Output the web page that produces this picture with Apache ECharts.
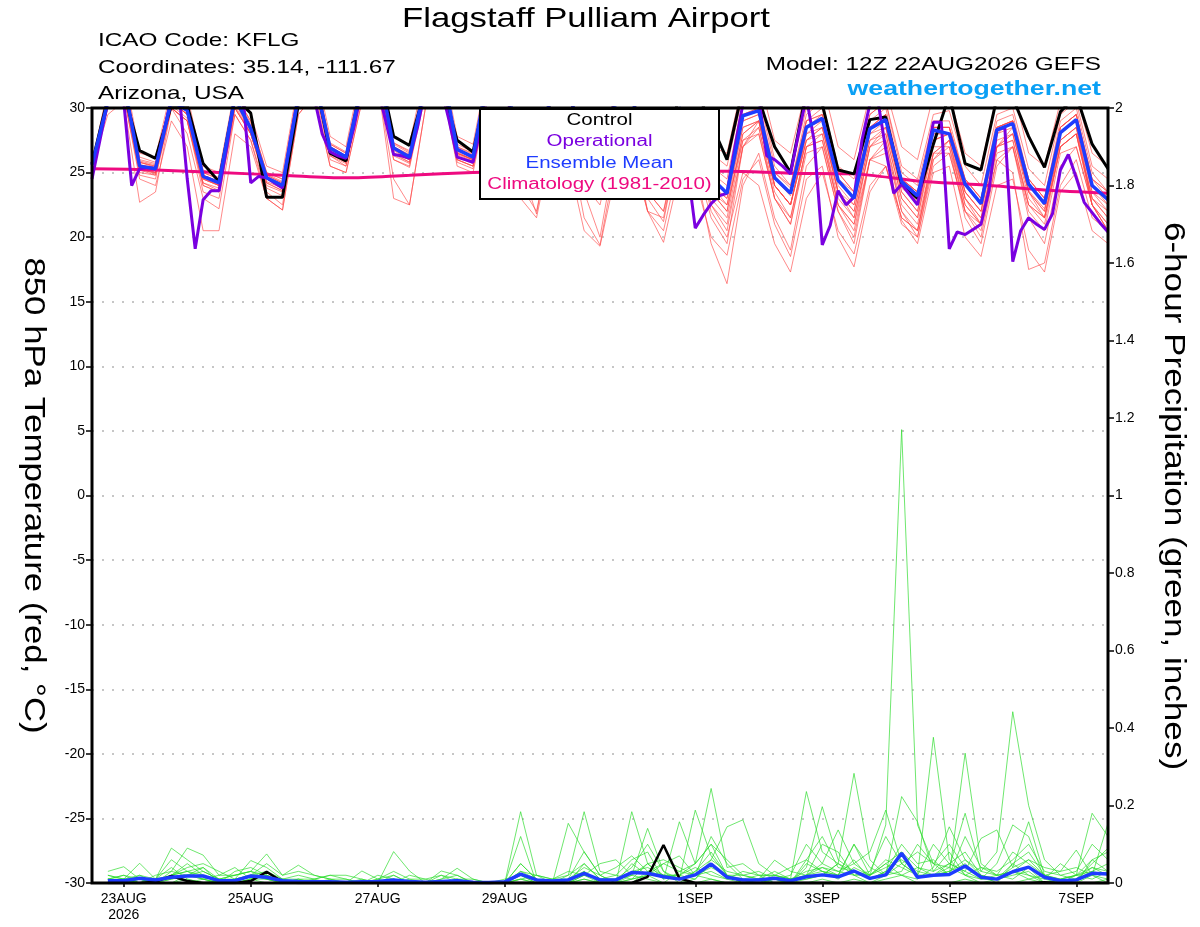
<!DOCTYPE html>
<html><head><meta charset="utf-8">
<script src="https://cdn.jsdelivr.net/npm/echarts@6/dist/echarts.min.js"></script>
<style>html,body{margin:0;padding:0;background:#fff}#c{width:1200px;height:927px}</style>
</head><body><div id="c"></div>
<script>
const FONT = '"Liberation Sans", Arial, Helvetica, sans-serif';

// x axis: hours after 12Z 22 Aug 2026
const tickHours = [12, 60, 108, 156, 228, 276, 324, 372];
const tickLabels = ['23AUG\n2026', '25AUG', '27AUG', '29AUG', '1SEP', '3SEP', '5SEP', '7SEP'];

// 850 hPa temperature (deg C), 6-hourly from 12Z 22 Aug
const controlTemp = [25.7,
 30.8,31.2,26.7,26.1, 30.2,30.2,25.7,24.3, 30.8,29.6,23.1,23.1, 30.3,32.7,26.5,25.9,
 32.0,33.5,27.8,27.1, 31.5,32.0,27.5,26.6, 32.0,31.5,27.0,26.5, 31.0,31.5,26.5,26.0,
 31.0,31.0,26.5,26.0, 31.0,31.5,28.8,26.0, 31.5,30.7,27.0,25.0, 31.3,30.3,25.2,24.9,
 29.1,29.3,24.1,23.0, 27.2,31.0,25.7,25.2, 30.8,30.8,27.8,25.4, 29.7,31.0,27.2,25.3];
const meanTemp = [25.6,
 30.5,32.0,25.5,25.3, 30.6,29.8,24.7,24.2, 30.8,28.4,24.6,24.0, 30.9,32.4,26.9,26.2,
 31.9,33.5,26.9,26.2, 31.9,33.5,26.8,26.2, 33.0,32.5,26.5,26.0, 31.5,32.0,26.0,25.5,
 30.5,31.0,25.5,25.0, 30.0,29.5,24.6,23.4, 29.4,29.8,24.6,23.4, 28.5,29.2,24.4,23.0,
 28.4,29.1,24.3,23.2, 28.3,28.0,24.1,22.6, 28.3,28.8,24.1,22.6, 28.1,29.1,24.0,22.9];
// operational run, 3-hourly
const opTemp = [24.5,
 27.5,30.5,31.0,30.5,24.0,25.3,25.4,25.3,
 28.0,30.8,31.0,24.5,19.1,22.9,23.6,23.6,
 27.0,31.0,31.0,24.2,24.7,24.6,24.2,23.8,
 27.5,31.0,31.5,30.8,28.0,26.6,26.3,26.1,
 28.5,31.5,32.0,31.5,29.0,26.4,26.3,26.1,
 28.5,31.5,32.0,31.5,29.0,26.2,26.0,25.8,
 28.5,31.5,32.0,31.5,29.0,26.5,26.3,26.0,
 28.5,31.5,32.0,31.5,29.0,26.5,26.2,26.0,
 28.5,31.0,31.5,31.0,28.5,26.0,25.8,25.5,
 27.5,29.0,25.5,20.7,21.7,22.6,23.2,23.4,
 27.0,30.3,31.5,30.8,26.3,26.0,25.5,24.9,
 28.0,30.8,27.4,19.4,20.9,23.6,22.5,23.1,
 27.5,30.3,30.6,26.8,23.4,24.1,23.3,22.5,
 25.7,28.9,28.9,19.1,20.4,20.2,20.6,21.0,
 23.6,28.3,28.5,18.1,20.5,21.5,21.0,20.6,
 21.8,25.2,26.4,24.6,22.7,21.9,21.1,20.4];
// climatology, daily at 12Z
const climTemp = [25.3,25.2,25.0,24.8,24.6,24.8,25.0,25.1,25.1,25.1,25.1,24.95,24.9,24.35,24.05,23.65,23.4];

// ensemble members (6-hourly)
const t01 = [25.6, 31,32.5,26.2,25.8, 31,30.5,25.2,24.6, 31,29,25,24.5, 31.5,33,27.3,26.6, 32.5,33.5,27.3,26.6, 32,33.5,27.2,26.6, 33,33,27,26.5, 32,32.5,26.8,26.2, 31.5,32,26.5,26, 31,31.5,26.5,25.5, 31,31.5,26,25, 30,30.5,25.5,24.5, 29.5,30.5,25.5,24.5, 29.5,29.8,25.5,24, 29.5,30,25.3,24, 29.5,30.5,25.5,24.5];
const t02 = [25.5, 30.5,32,25.8,25.4, 30.5,29.5,24.6,24, 30.5,28.5,24.8,24.2, 31,32.5,26.8,26.1, 32,33,26.5,25.8, 31.5,33,26.4,25.9, 32.5,32,26.2,25.6, 31,31.5,25.5,25, 30,30.5,25,24.5, 29.5,29.5,24.5,23.5, 29,29.5,24.5,23.2, 28.5,29,24,22.5, 28,28.5,23.8,22.8, 28,28,23.5,22, 27.5,28,23.6,22.2, 27.5,28.5,23.5,22.5];
const t03 = [25.6, 30,31,25,24.8, 30,28,23,22.2, 29.5,27.5,23.5,22.5, 30,31.5,26,25.5, 31,32.5,26,25.4, 31,32.5,26,25.5, 31.5,31,25.5,21.8, 28.5,30,25,24.5, 29.5,30,24.5,24, 28.5,28.5,23.5,22.5, 27.5,28,23,21.5, 27,27.5,22.5,21, 27,27.5,22.5,21, 26.5,26.5,22,20.5, 26,27,22,20.5, 26.5,27,22.5,21];
const t04 = [25.5, 30,31,24.5,24, 29,27,20.5,20.5, 28,27,23,22.1, 29.5,31,25.5,25, 30.5,32,24.5,22.5, 30,32,25.5,25, 31,31.5,26,25.5, 30.5,31,25.5,25, 30,30.5,25,24, 29,29,24,22.5, 28.5,29,24,22.5, 28,28.5,23.5,22, 27.5,28,23,21.5, 27,27,22.5,21, 27,27.5,22.5,21.5, 27,28,23,22];
const t05 = [25.6, 30.5,31.5,25.5,25, 30.5,29.5,24.5,24, 30.5,28.5,24.5,24, 30.5,32,26.5,26, 31.5,33,26.5,26, 31.5,32.5,26,25.5, 31,30,24,22, 28,28,21.5,19.4, 26,27,22,20.5, 26,25.5,19.5,16.4, 24,26.5,21.5,19, 25.5,27,22,19.5, 26,27.5,22,20, 26,27,21.5,19.5, 25.5,27,21.5,19.5, 25.5,27,22.5,20.5];
const t06 = [25.7, 31.5,33,26.5,26.2, 31.5,31,25.5,25, 31.5,29.5,25.5,25, 32,33.5,27.8,27, 33,34,27.8,27.2, 33,34,27.8,27.2, 33.5,33.5,27.5,27, 33,33,27.5,27, 32.5,32.5,27,26.5, 32,32,27,26.5, 32,32.5,27.5,26.5, 31.5,32,27,26, 31,31.5,27,26, 31,31,26.5,25.5, 31,31.5,26.5,25.5, 30.5,31,26.5,25.5];
const t07 = [25.5, 30.5,31.5,25.2,25, 30,29,24,23.5, 30,28,24,23.5, 30.5,32,26.5,25.8, 31.5,33,26.8,26, 31.5,33,26.5,26, 32,30.5,24.5,23, 29,29.5,24,22.5, 28,28.5,23.5,22, 27,26,21.5,19.5, 27,29,24,22.5, 28,29,23.5,21.5, 27,28.5,23.5,22, 27.5,28,23,21, 27,28.5,23.5,21.5, 27.5,28.5,22.5,20.5];
const t08 = [25.6, 30.5,32,25.8,25.5, 31,30,24.8,24.3, 31,28.5,24.8,24.2, 31,32.5,27,26.3, 32,33,27,26.3, 32,33,26.8,26.2, 32.5,32,26.5,26, 31,31,25.5,24.5, 29.5,28.5,22,19.6, 25,24.5,20,18.6, 24.5,26,21,18.5, 24.5,25.5,20,17.7, 23.5,25.5,21.5,20.5, 26,27.5,23,21.5, 27,28,23.5,22, 27.5,28.5,23,21.5];
const t09 = [25.6, 31,32.5,25.8,25.5, 30.5,30,24.8,24.2, 30.5,28.5,24.6,24.1, 31,32.5,26.8,26.1, 32,33.5,26.8,26.2, 32,33.5,26.8,26.2, 33,32.5,26.5,26, 31.5,31.5,25.5,25, 30,29.5,24,23, 28,27.5,22.5,21, 27,28.5,23.5,21.5, 27,28,22.5,20.5, 26,26.5,21.3,19.5, 25,25.5,20,18.5, 24,24.5,19,17.3, 23.5,25,20.5,19.5];
const t10 = [25.5, 30.5,31.5,25.3,25, 30.5,29.5,24.5,24, 30.5,28,24.3,23.8, 30.5,32,26.5,26, 31.5,33,26.5,26, 31.5,33,26.5,26, 32,31.5,25.8,25.2, 30,30.5,25,24.5, 29.5,30,24.5,24, 29,28.5,24,23, 29,29.5,24.5,23.5, 28.5,29.5,24.5,23.5, 28.5,29.5,24.5,23.5, 28.5,28.5,24.5,23, 28.5,29,24.5,23, 28.5,29.5,24.5,23.5];
const t11 = [25.6, 30,31,24.8,24.5, 30,29,24,23.5, 29.5,27.5,23,22.1, 29.5,31,25.5,25, 30.5,32,23,22.5, 30,32,25.8,25.3, 31.5,31,25.5,25, 30.5,31,25,24.5, 30,30.5,25,24.5, 29.5,29,24,23, 28.5,29,24,22.5, 27.5,28,23,21.5, 27,28,23,21.5, 27.5,28,23.5,22, 28,29,24,22.5, 28,29,24,22.5];
const t12 = [25.6, 30.5,32,25.5,25.2, 30.5,30,24.8,24.3, 30.5,28.5,24.5,24, 31,32.5,27,26.3, 32,33.5,27,26.3, 32,33,26.5,26, 32,31.5,25.5,25, 30.5,29.5,23.5,20, 27,28,23,21.2, 27.5,28,23,21.5, 27.5,28.5,23,21, 27,27.5,22.5,21, 26,25.5,21.5,20.5, 26.5,27.5,22,20, 26,25,17.5,18, 24,26,21.5,20.5];
const t13 = [25.6, 31,32.5,26,25.7, 31,30.5,25,24.5, 31,29,25,24.5, 31.5,33,27.2,26.5, 32.5,34,27.3,26.7, 32.5,33.5,27,26.5, 33,33,27,26.5, 32,32,26.5,26, 31,31.5,26,25.5, 31,30.5,25.5,24.5, 30.5,31,25.5,24, 29.5,30.5,25,23.5, 29.5,30.5,25,24, 29,29,24.5,23, 29,29.5,24.5,23, 29,30,25,23.5];
const t14 = [25.5, 29.5,30.5,22.7,23.5, 30,29,23.5,23, 30,28,23.8,23.2, 30.5,32,26.3,25.5, 31.5,32.5,26,25.5, 31.5,32.5,26,25.5, 31.5,31,25.5,25, 30.5,30.5,25,24.5, 29.5,29,23.5,22, 28,27.5,22.5,20.5, 27,28,23,21, 26.5,27,22,20, 26,27,22,20.5, 26.5,27.5,22.5,21, 27,28,23,21.5, 27,28,22.5,20.5];
const t15 = [25.6, 30.5,31.5,25.3,24.9, 30,29,24.2,23.8, 30,28,24.2,23.6, 30.5,32,26.3,25.7, 31.5,32.5,26.3,25.7, 31.5,32.5,26.2,25.7, 32,31,25,24.5, 29.5,30,24.5,24, 29,29.5,24.5,23.5, 28.5,28,23.5,22, 28,29,24,22.5, 27.5,28.5,23.5,22.5, 28,29,24,22.5, 28,28,23.5,22, 28,28.5,23.5,22, 28,29,23.5,22];
const t16 = [25.6, 30.5,32,25.6,25.3, 30.5,29.5,24.6,24.1, 30.5,28.5,24.6,24, 31,32.5,26.8,26.2, 32,33,26.8,26.2, 32,33,26.6,26, 32.5,30,23,21.5, 27.5,26,20.5,19.3, 25,26.5,22,21.5, 27.5,28.5,23.5,22, 28,29,24,22.5, 27.5,28.5,23.5,22, 27.5,28.5,23.5,22, 27.5,28,23,21.5, 27,27.5,22.5,21, 27,28,23,21.5];
const t17 = [25.6, 30.8,32.3,25.9,25.6, 31,30.2,25,24.5, 31,28.8,24.9,24.3, 31.2,32.8,27.2,26.5, 32.3,33.8,27.2,26.5, 32.3,33.8,27,26.4, 33,32.8,26.8,26.3, 32,32,26.3,25.8, 31,31,25.8,25, 30,29.5,24.5,23.5, 29.5,30,25,23.8, 29,29.5,24.5,23, 28.5,29.5,24.5,23.5, 28.5,28.5,24,22.5, 28.5,29,24,22.5, 28.5,29.5,24,23];
const t18 = [25.6, 30.5,31.8,25.5,25.2, 30.5,29.5,24.5,24, 30.5,28.3,24.5,23.9, 30.8,32.2,26.7,26, 31.8,33.2,26.7,26, 31.8,33,26.5,26, 32,31.5,26,25.5, 31,31,25.5,25, 30,29.5,24,23, 28,27.5,22,20, 25,24,19.5,17.3, 23,25,20.5,18.7, 24,25.5,21,20, 25.5,26.5,22,21, 26.5,27,22.5,21.5, 27,28,22.5,21];
const t19 = [25.6, 30.3,31.5,25.2,24.8, 30.2,29.2,24.2,23.6, 30.2,28,24.2,23.6, 30.5,31.8,26.4,25.8, 31.5,32.8,26.4,25.8, 31.5,32.5,26.3,25.8, 32,32,26,25.5, 31,31.5,25.5,25, 30.5,30.5,25.5,24.5, 29.5,29.5,24.5,23.5, 29.5,30,24.5,23.5, 29,30,24.5,23, 29,30,24.5,23.5, 28.5,28.5,24,22.5, 28.5,29,24,22.5, 28.5,29.5,24.5,23];
const t20 = [25.5, 30.8,32,25.6,25.4, 30.8,29.8,24.8,24.3, 30.8,28.6,24.7,24.1, 31,32.5,27,26.3, 32,33.5,27,26.4, 32,33.5,26.9,26.3, 32.5,32,26.5,26, 31.5,32,26,25.5, 30.5,30.5,25.5,25, 30,30,25,24, 30,30.5,25,24, 29,29.5,25,23.5, 28.5,29.5,24.5,23.5, 28.5,28.5,24.5,23, 28.5,29,24.5,23, 28.5,29.5,24.5,23.5];
const ensembleTemp = [t01,t02,t03,t04,t05,t06,t07,t08,t09,t10,t11,t12,t13,t14,t15,t16,t17,t18,t19,t20];

// 6-hour precipitation (inches), 6-hourly from 18Z 22 Aug
const controlPrecip = [0,0,0,0.003, 0.018,0.005,0,0, 0,0.005,0.029,0.003, 0,0,0,0, 0,0,0,0, 0,0,0,0, 0,0,0,0, 0,0,0,0, 0,0,0.016,0.098, 0.012,0,0,0, 0,0,0,0, 0,0,0,0, 0,0,0,0, 0,0,0,0, 0,0,0,0.002, 0,0,0,0];
const meanPrecip = [0.006,0.006,0.012,0.008, 0.015,0.018,0.018,0.006, 0.006,0.018,0.015,0.006, 0.004,0.003,0.003,0.002, 0.003,0.004,0.008,0.004, 0.002,0.004,0.006,0.002, 0.001,0.003,0.023,0.008, 0.005,0.008,0.025,0.008, 0.008,0.027,0.025,0.016, 0.01,0.021,0.049,0.015, 0.008,0.008,0.012,0.006, 0.016,0.021,0.016,0.031, 0.012,0.021,0.077,0.015, 0.02,0.022,0.044,0.015, 0.01,0.029,0.041,0.015, 0.006,0.008,0.025,0.023];
const p01 = [0.01,0.02,0.01,0, 0.02,0.03,0.01,0, 0,0.01,0.02,0, 0,0,0,0, 0,0,0.01,0, 0,0,0,0, 0,0,0.02,0, 0,0.01,0.03,0, 0,0.05,0.02,0, 0,0.03,0.08,0.02, 0,0,0.01,0, 0.05,0.03,0.02,0.1, 0.02,0.15,1.17,0.15, 0.05,0.1,0.04,0.02, 0,0.05,0.08,0.02, 0,0.01,0.05,0.09];
const p02 = [0.03,0.042,0.01,0, 0.01,0.02,0.04,0.01, 0.02,0.03,0.01,0, 0.01,0,0,0, 0,0,0.02,0, 0,0,0.01,0, 0,0,0.12,0, 0,0,0.05,0.01, 0.01,0.02,0.141,0.03, 0,0.01,0.05,0.02, 0,0,0.01,0.02, 0.1,0.05,0.03,0.02, 0,0.02,0.08,0.02, 0.376,0.06,0.02,0, 0.01,0.03,0.02,0.01, 0.05,0.02,0.04,0.02];
const p03 = [0,0.01,0.051,0.01, 0.02,0.05,0.02,0, 0,0.02,0.03,0.01, 0.02,0.01,0,0, 0,0.01,0.03,0.01, 0,0.02,0.01,0, 0,0,0.184,0.02, 0,0,0.02,0, 0,0.184,0.05,0.01, 0.02,0.04,0.02,0.01, 0,0.01,0.03,0.01, 0.236,0.08,0.05,0.03, 0.01,0.02,0.03,0.1, 0.05,0.02,0.335,0.05, 0.02,0.01,0.04,0, 0,0.02,0.01,0.03];
const p04 = [0.01,0,0.02,0.01, 0.09,0.06,0.03,0.01, 0.01,0.058,0.04,0.01, 0,0,0,0, 0.01,0,0,0, 0,0.01,0.02,0, 0,0,0.05,0.01, 0,0.154,0.08,0.02, 0,0.01,0.02,0.02, 0.01,0.188,0.07,0.02, 0.02,0.03,0.01,0, 0.04,0.197,0.06,0.03, 0.02,0.05,0.02,0.01, 0.04,0.145,0.06,0.03, 0.08,0.442,0.2,0.06, 0.02,0.01,0.03,0.05];
const p05 = [0,0.01,0,0.02, 0.03,0.09,0.072,0.02, 0.02,0.03,0.075,0.02, 0.046,0.02,0.01,0, 0.031,0.01,0.02,0, 0,0.01,0.038,0.01, 0,0.01,0.02,0, 0.01,0.02,0.184,0.03, 0.02,0.06,0.08,0.01, 0.158,0.05,0.244,0.04, 0.05,0.02,0.02,0.01, 0.02,0.05,0.137,0.05, 0.08,0.188,0.05,0.02, 0.02,0.05,0.03,0.115, 0.137,0.04,0.158,0.02, 0.01,0.02,0.18,0.12];
const p06 = [0.02,0.01,0.02,0, 0.02,0.04,0.05,0.03, 0.01,0.02,0.05,0.02, 0.03,0.02,0.01,0.01, 0,0,0.081,0.031, 0,0.031,0.02,0, 0,0,0.03,0.02, 0.01,0.01,0.081,0.02, 0,0.03,0.04,0.02, 0.02,0.01,0.06,0.145, 0.163,0.05,0.02,0.01, 0.01,0.02,0.05,0.283, 0.06,0.02,0.223,0.158, 0.03,0.08,0.02,0.04, 0.02,0.03,0.06,0.04, 0.03,0.085,0.02,0.154];
const p07 = [0,0,0,0.01, 0.06,0.03,0.02,0, 0.03,0.04,0.02,0, 0,0.01,0.02,0.02, 0.01,0,0,0, 0,0,0,0, 0,0,0,0, 0,0,0.02,0.05, 0.06,0.02,0.01,0, 0.03,0.05,0.1,0.06, 0.02,0.01,0.059,0.03, 0.02,0.1,0.08,0.02, 0.03,0.12,0.05,0.02, 0.1,0.05,0.03,0.01, 0.05,0.15,0.12,0.01, 0,0,0.06,0.03];
const p08 = [0.01,0.02,0,0, 0.01,0.02,0.01,0.02, 0.04,0.01,0.01,0, 0,0,0,0, 0,0.01,0,0.01, 0.01,0.02,0,0, 0,0,0.03,0.01, 0,0.02,0.05,0.01, 0.01,0.04,0.1,0.03, 0.01,0.02,0.04,0.02, 0.01,0,0.02,0.04, 0.06,0.12,0.04,0.03, 0.01,0.03,0.1,0.05, 0.06,0.02,0.12,0.04, 0.03,0.06,0.1,0.03, 0.02,0.03,0.1,0.06];
const p09 = [0,0,0,0, 0,0.02,0.03,0.01, 0,0.02,0.01,0.01, 0.01,0.01,0.02,0.01, 0,0.02,0.01,0, 0,0,0.01,0.01, 0,0,0.01,0, 0,0,0.01,0, 0,0,0.03,0.05, 0.07,0.02,0.01,0, 0,0.01,0,0.01, 0.02,0.03,0.01,0.04, 0.02,0.06,0.04,0.02, 0.02,0.03,0.05,0.01, 0.01,0.02,0.03,0, 0,0,0.02,0.01];
const p10 = [0.01,0,0.01,0, 0,0.01,0,0, 0,0.01,0,0, 0,0,0,0, 0,0,0,0, 0,0,0,0, 0,0,0,0, 0,0,0,0, 0,0,0,0, 0,0,0.01,0, 0,0,0,0, 0,0.01,0,0.01, 0,0.01,0.02,0, 0,0,0.01,0, 0,0,0.01,0, 0,0,0,0.01];
const p11 = [0.02,0.01,0,0, 0.02,0.03,0.04,0, 0.01,0.02,0.01,0, 0.01,0,0,0, 0,0,0,0.02, 0.01,0,0,0, 0,0,0.02,0.01, 0,0.01,0.04,0.02, 0.04,0.07,0.03,0.02, 0.01,0.03,0.06,0.03, 0.02,0.01,0.01,0, 0.01,0.02,0.05,0.02, 0.02,0.04,0.06,0.03, 0.02,0.04,0.02,0.01, 0.02,0.08,0.05,0.02, 0.01,0.02,0.03,0.02];
const p12 = [0,0.01,0.01,0.01, 0.04,0.01,0,0.01, 0.02,0.03,0.02,0.01, 0,0,0.01,0, 0,0,0,0, 0,0,0,0, 0,0,0.01,0.02, 0.01,0.03,0.02,0.01, 0.02,0.01,0.05,0.06, 0.04,0.02,0.03,0.01, 0.03,0.02,0.02,0.01, 0.03,0.04,0.02,0.06, 0.01,0.03,0.02,0.04, 0.03,0.05,0.08,0.02, 0.01,0.04,0.06,0.02, 0,0.01,0.04,0.03];
const p13 = [0,0,0.01,0, 0.03,0.02,0.01,0, 0,0.01,0.02,0, 0,0,0,0, 0,0,0.01,0, 0,0,0,0, 0,0,0.05,0.01, 0,0,0.03,0, 0,0.02,0.05,0.02, 0.02,0.05,0.1,0.02, 0,0,0,0, 0.02,0.04,0.03,0.05, 0.02,0.05,0.08,0.04, 0.02,0.03,0.06,0.02, 0.01,0.05,0.02,0, 0.01,0.02,0.06,0.08];
const p14 = [0.01,0.01,0,0, 0,0,0.01,0, 0,0,0,0, 0,0,0,0, 0,0,0,0, 0,0,0,0, 0,0,0.01,0, 0,0,0.01,0, 0,0.01,0.02,0.05, 0.03,0.02,0.12,0.05, 0.01,0.02,0,0, 0.06,0.03,0.02,0.1, 0.04,0.02,0.05,0.08, 0.05,0.04,0.18,0.03, 0.02,0.03,0.01,0.02, 0.03,0.04,0.02,0];
const ensemblePrecip = [p01,p02,p03,p04,p05,p06,p07,p08,p09,p10,p11,p12,p13,p14];

// ---- build chart ----
const at6 = a => a.map((v, i) => [i * 6, v]);
const at3 = a => a.map((v, i) => [i * 3, v]);
const at24 = a => a.map((v, i) => [i * 24, v]);
const atP = a => a.map((v, i) => [(i + 1) * 6, v]);

const base = { type: 'line', showSymbol: false, symbol: 'none', silent: true, clip: true, animation: false };
const series = [];
ensembleTemp.forEach((m, k) => series.push(Object.assign({}, base, {
  name: 'member' + (k + 1), data: at6(m), z: 2,
  lineStyle: { color: 'rgba(255,70,70,0.8)', width: 0.8 }
})));
ensemblePrecip.forEach((m, k) => series.push(Object.assign({}, base, {
  name: 'precip' + (k + 1), data: atP(m), yAxisIndex: 1, z: 3,
  lineStyle: { color: 'rgba(40,220,40,0.85)', width: 0.8 }
})));
series.push(Object.assign({}, base, { name: 'Climatology (1981-2010)', data: at24(climTemp), smooth: 0.3, z: 4, lineStyle: { color: '#ee0a80', width: 3 } }));
series.push(Object.assign({}, base, { name: 'Control', data: at6(controlTemp), z: 5, lineStyle: { color: '#000000', width: 3 } }));
series.push(Object.assign({}, base, { name: 'Operational', data: at3(opTemp), z: 6, lineStyle: { color: '#7a00e0', width: 3 } }));
series.push(Object.assign({}, base, { name: 'Ensemble Mean', data: at6(meanTemp), z: 7, lineStyle: { color: '#1e3cff', width: 3.5 } }));
series.push(Object.assign({}, base, { name: 'Control precip', data: atP(controlPrecip), yAxisIndex: 1, z: 8, lineStyle: { color: '#000000', width: 2.5 } }));
series.push(Object.assign({}, base, { name: 'Mean precip', data: atP(meanPrecip), yAxisIndex: 1, z: 9, lineStyle: { color: '#1e3cff', width: 3.5 } }));

// text drawn with the reference's wide (horizontally stretched) lettering
const txt = (text, x, y, size, align, fill, weight, sx, rot) => ({
  type: 'text', x: x, y: y, z: 120, silent: true,
  scaleX: sx || 1, scaleY: 1, rotation: rot || 0,
  style: { text: text, fill: fill || '#000', font: (weight || 'normal') + ' ' + size + 'px ' + FONT,
    align: align, textAlign: align, verticalAlign: 'middle', textVerticalAlign: 'middle' }
});
const SX = 1.28;

const option = {
  backgroundColor: '#ffffff',
  animation: false,
  textStyle: { fontFamily: FONT },
  grid: { left: 92, right: 92, top: 108, bottom: 44, containLabel: false },
  xAxis: {
    type: 'value', min: 0, max: 384,
    axisLine: { show: false, onZero: false }, splitLine: { show: false },
    axisTick: { show: true, customValues: tickHours, length: 4, lineStyle: { color: '#000', width: 1.5 } },
    axisLabel: { customValues: tickHours, formatter: v => { const k = tickHours.indexOf(v); return k >= 0 ? tickLabels[k] : ''; },
      color: '#000', fontSize: 14, margin: 8, lineHeight: 16, fontFamily: FONT }
  },
  yAxis: [
    {
      type: 'value', min: -30, max: 30, interval: 5, position: 'left',
      axisLine: { show: false, onZero: false },
      axisTick: { show: true, length: 6, lineStyle: { color: '#000', width: 1.5 } },
      axisLabel: { color: '#000', fontSize: 14, margin: 7, fontFamily: FONT },
      splitLine: { show: true, lineStyle: { color: '#b4b4b4', type: [2, 8], width: 1.5 } }
    },
    {
      type: 'value', min: 0, max: 2, interval: 0.2, position: 'right',
      axisLine: { show: false, onZero: false },
      axisTick: { show: true, length: 6, lineStyle: { color: '#000', width: 1.5 } },
      axisLabel: { color: '#000', fontSize: 14, margin: 7, fontFamily: FONT },
      splitLine: { show: false }
    }
  ],
  series: series,
  graphic: [
    { type: 'rect', z: 110, silent: true, shape: { x: 92, y: 108, width: 1016, height: 775 },
      style: { fill: 'none', stroke: '#000', lineWidth: 3 } },
    { type: 'rect', z: 115, silent: true, shape: { x: 480, y: 109, width: 239, height: 90 },
      style: { fill: '#ffffff', stroke: '#000', lineWidth: 2 } },
    txt('Control', 599.5, 121, 16, 'center', '#000000', 'normal', SX),
    txt('Operational', 599.5, 142, 16, 'center', '#7a00e0', 'normal', SX),
    txt('Ensemble Mean', 599.5, 163.5, 16, 'center', '#1e3cff', 'normal', SX),
    txt('Climatology (1981-2010)', 599.5, 185, 16, 'center', '#ee0a80', 'normal', SX),
    txt('Flagstaff Pulliam Airport', 586, 19, 28, 'center', '#000', 'normal', 1.24),
    txt('ICAO Code: KFLG', 98, 40.5, 19, 'left', '#000', 'normal', SX),
    txt('Coordinates: 35.14, -111.67', 98, 67.5, 19, 'left', '#000', 'normal', SX),
    txt('Arizona, USA', 98, 94, 19, 'left', '#000', 'normal', SX),
    txt('Model: 12Z 22AUG2026 GEFS', 1101, 64.5, 19, 'right', '#000', 'normal', SX),
    txt('weathertogether.net', 1101, 89.5, 21, 'right', '#0aa0f5', 'bold', 1.27),
    txt('850 hPa Temperature (red, °C)', 33, 495.5, 30, 'center', '#000', 'normal', 1.16, -Math.PI / 2),
    txt('6-hour Precipitation (green, inches)', 1173, 496, 30, 'center', '#000', 'normal', 1.17, -Math.PI / 2)
  ]
};
const chart = echarts.init(document.getElementById('c'), null, { renderer: 'canvas' });
chart.setOption(option);
</script></body></html>
